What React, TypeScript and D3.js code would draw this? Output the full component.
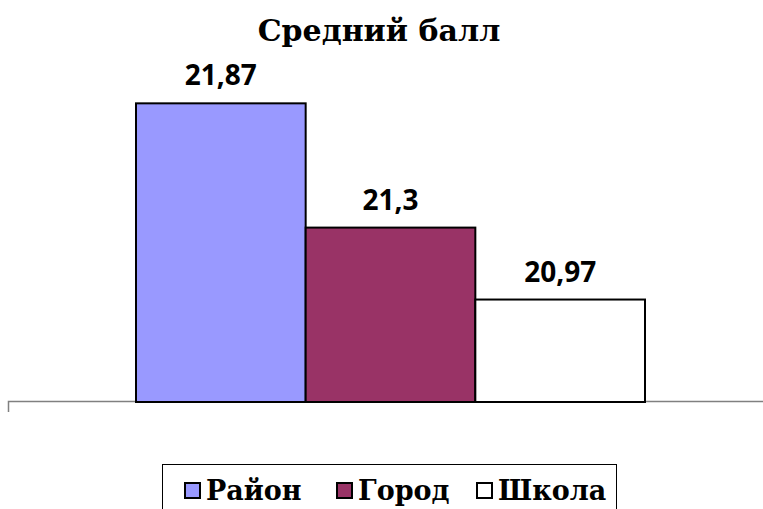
import React from 'react';
import * as d3 from 'd3';

const title = 'Средний балл';
const seriesNames = ['Район', 'Город', 'Школа'];
const seriesValues = [21.87, 21.3, 20.97];
const seriesColors = ['#9999FF', '#993366', '#FFFFFF'];
const yDomain = [20.5, 22];

const width = 763;
const height = 509;

const App = () => {
  // one category, three series side by side
  const x = d3.scaleBand<string>()
    .domain(seriesNames)
    .range([136, 645])
    .padding(0);

  const y = d3.scaleLinear()
    .domain(yDomain)
    .range([402, 75]);

  const fmt = (v: number) => String(v).replace('.', ',');

  const legendX = [185, 337, 477];

  return (
    <svg width={width} height={height} style={{ position: 'absolute', left: 0, top: 0 }}>
      <rect width={width} height={height} fill="#fff" />
      <text x={379} y={41} textAnchor="middle"
        style={{ fontFamily: 'DejaVu Serif', fontWeight: 'bold', fontSize: '30px' }}>
        {title}
      </text>

      {/* baseline axis */}
      <path d={`M8.5,412V401.5H775`} fill="none" stroke="#808080" strokeWidth={1.5} />

      {seriesNames.map((name, i) => (
        <g key={name}>
          <rect
            x={x(name)}
            y={y(seriesValues[i])}
            width={x.bandwidth()}
            height={y(yDomain[0]) - y(seriesValues[i])}
            fill={seriesColors[i]}
            stroke="#000"
            strokeWidth={2}
          />
          <text
            x={(x(name) as number) + x.bandwidth() / 2}
            y={y(seriesValues[i]) - 18}
            textAnchor="middle"
            style={{ fontFamily: 'Open Sans', fontWeight: 'bold', fontSize: '28px' }}>
            {fmt(seriesValues[i])}
          </text>
        </g>
      ))}

      {/* legend */}
      <rect x={162.5} y={464.5} width={454} height={60} fill="#fff" stroke="#000" strokeWidth={1} />
      {seriesNames.map((name, i) => (
        <g key={'lg' + name}>
          <rect x={legendX[i]} y={483} width={15} height={15}
            fill={seriesColors[i]} stroke="#000" strokeWidth={2} />
          <text x={legendX[i] + 21} y={500}
            style={{ fontFamily: 'DejaVu Serif', fontWeight: 'bold', fontSize: '27px' }}>
            {name}
          </text>
        </g>
      ))}
    </svg>
  );
};

export default App;
